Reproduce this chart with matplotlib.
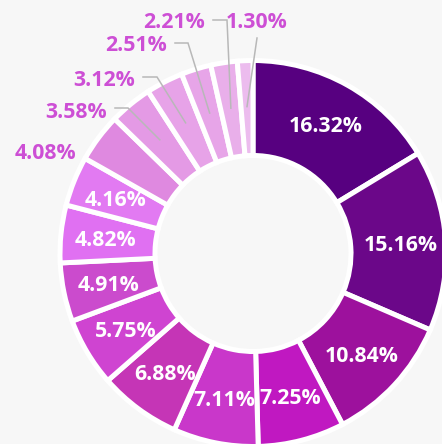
import matplotlib
matplotlib.use("Agg")
import matplotlib.pyplot as plt
import numpy as np

# ---- data ----
labels = ["16.32%", "15.16%", "10.84%", "7.25%", "7.11%", "6.88%", "5.75%", "4.91%",
          "4.82%", "4.16%", "4.08%", "3.58%", "3.12%", "2.51%", "2.21%", "1.30%"]
values = [16.32, 15.16, 10.84, 7.25, 7.11, 6.88, 5.75, 4.91,
          4.82, 4.16, 4.08, 3.58, 3.12, 2.51, 2.21, 1.30]
colors = ["#570080", "#6b0789", "#9d119d", "#c018c1", "#c937ca", "#c535b6", "#cf44d1", "#cb4bcd",
          "#e070f2", "#e27af2", "#df89e0", "#e49ae5", "#e7a3e8", "#e7a5e8", "#e9afea", "#ecbcee"]

W, H = 442, 444
BG = "#f7f7f7"
fig = plt.figure(figsize=(W / 100, H / 100), dpi=100, facecolor=BG)
ax = fig.add_axes([0, 0, 1, 1])
ax.set_facecolor(BG)

def P(x, y):  # pixel (y down) -> data
    return x, H - y

cx, cy = P(253, 253.5)
R_OUT, R_IN = 193, 98
ax.pie(values, colors=colors, startangle=90, counterclock=False,
       center=(cx, cy), radius=R_OUT, frame=True,
       wedgeprops=dict(width=R_OUT - R_IN, edgecolor="white", linewidth=3.6))
ax.set_xlim(0, W)
ax.set_ylim(0, H)
ax.set_aspect("equal")
ax.axis("off")

font = dict(family=["Open Sans", "DejaVu Sans"], fontweight="bold", fontsize=15.3)
cum = np.cumsum([0] + values[:-1])
mids = 90 - 360 * (cum + np.array(values) / 2) / 100.0
R_LAB = 148
CAP = 7.6

n_inside = 10
for i in range(n_inside):
    t = np.radians(mids[i])
    x = cx + R_LAB * np.cos(t)
    y = cy + R_LAB * np.sin(t)
    ax.text(x, y - CAP, labels[i], color="white", ha="center", va="baseline", **font)

# outside labels: (text x px, text center y px, ha, line points in px)
out_layout = {
    10: (76, 151, "right", []),
    11: (107, 110, "right", [(115, 108), (128, 108)]),
    12: (135, 78, "right", [(143, 77), (157, 77)]),
    13: (167, 43, "right", [(175, 43), (188, 43)]),
    14: (205, 20, "right", [(213, 20), (227, 20)]),
    15: (226, 20, "left", [(257, 38)]),
}
lab_color = "#cd4fd5"
R_ANCH = 147
for i, (tx, ty, ha, pts) in out_layout.items():
    x, y = P(tx, ty)
    ax.text(x, y - CAP, labels[i], color=lab_color, ha=ha, va="baseline", **font)
    if pts:
        t = np.radians(mids[i])
        ax_x = cx + R_ANCH * np.cos(t)
        ax_y = cy + R_ANCH * np.sin(t)
        xs = [P(*p)[0] for p in pts] + [ax_x]
        ys = [P(*p)[1] for p in pts] + [ax_y]
        ax.plot(xs, ys, color="#b8b8b8", lw=1.1, solid_joinstyle="miter", zorder=5)

fig.savefig("out.png", dpi=100, facecolor=BG)
